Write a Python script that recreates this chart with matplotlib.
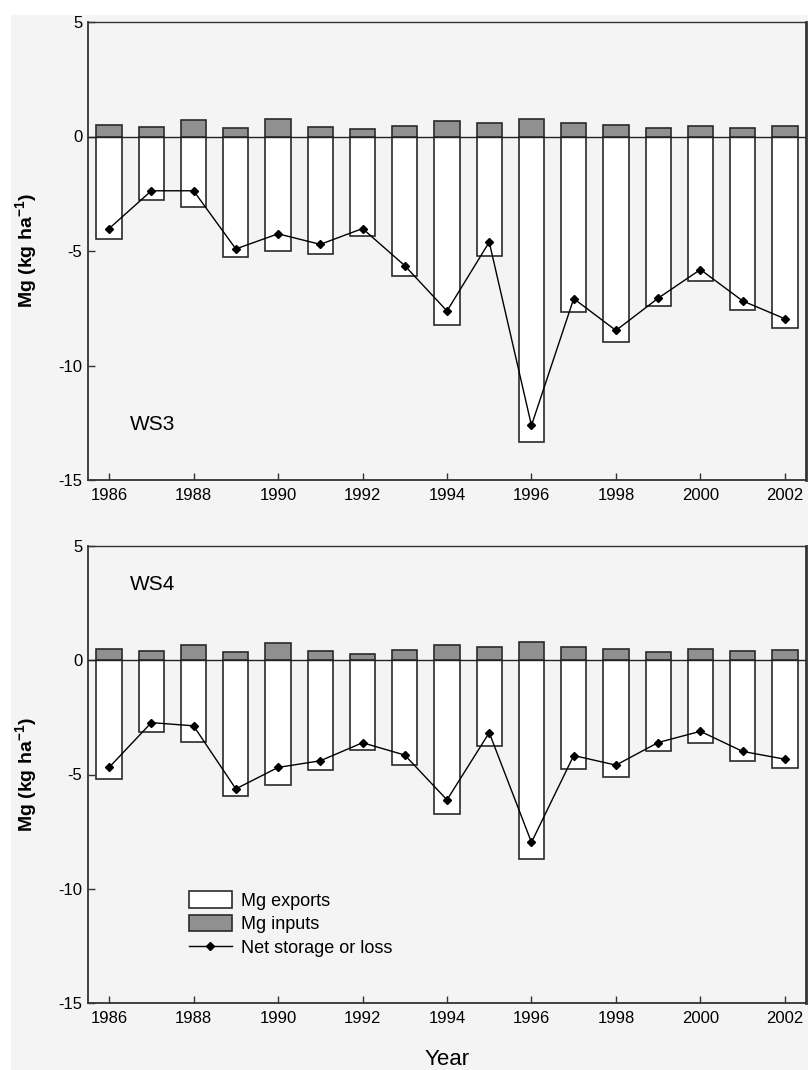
import matplotlib.pyplot as plt
from matplotlib.patches import Rectangle, Patch
from matplotlib.lines import Line2D

plt.rcParams["font.family"] = ["Liberation Sans", "DejaVu Sans"]

years = list(range(1986, 2003))

# WS3
ws3_inputs = [0.49, 0.42, 0.70, 0.36, 0.76, 0.42, 0.33, 0.46, 0.67, 0.60,
              0.77, 0.60, 0.49, 0.37, 0.48, 0.39, 0.44]
ws3_exports = [-4.49, -2.79, -3.09, -5.28, -5.00, -5.13, -4.34, -6.07, -8.23, -5.24,
               -13.33, -7.68, -8.96, -7.41, -6.30, -7.56, -8.35]
ws3_net = [-4.02, -2.37, -2.37, -4.91, -4.25, -4.71, -4.02, -5.64, -7.62, -4.61,
           -12.62, -7.08, -8.47, -7.06, -5.81, -7.18, -7.96]

# WS4
ws4_inputs = [0.50, 0.41, 0.67, 0.34, 0.75, 0.42, 0.29, 0.45, 0.66, 0.57,
              0.78, 0.58, 0.51, 0.35, 0.50, 0.41, 0.44]
ws4_exports = [-5.19, -3.13, -3.58, -5.96, -5.44, -4.80, -3.92, -4.59, -6.75, -3.74,
               -8.70, -4.75, -5.13, -3.96, -3.63, -4.39, -4.72]
ws4_net = [-4.69, -2.73, -2.87, -5.63, -4.69, -4.40, -3.61, -4.15, -6.11, -3.17,
           -7.97, -4.17, -4.59, -3.60, -3.11, -3.99, -4.33]

xticks = list(range(1986, 2003, 2))
yticks = [5, 0, -5, -10, -15]

bg = "#f4f4f4"
edge = "#2a2a2a"

fig = plt.figure(figsize=(8.08, 10.70), dpi=100, facecolor="white")
fig.patches.append(Rectangle((11 / 808, 0), 1 - 11 / 808, 1 - 15 / 1070,
                             transform=fig.transFigure, facecolor=bg,
                             edgecolor="none", zorder=-10))

left = 88 / 808
width = 718 / 808
ax1 = fig.add_axes([left, 1 - 480 / 1070, width, 458 / 1070])
ax2 = fig.add_axes([left, 1 - 1003 / 1070, width, 457 / 1070])


def draw(ax, inputs, exports, net, label, lab_y):
    ax.set_facecolor(bg)
    ax.bar(years, exports, width=0.6, color="white", edgecolor=edge, linewidth=1.2, zorder=2)
    ax.bar(years, inputs, width=0.6, color="#909090", edgecolor=edge, linewidth=1.2, zorder=2)
    ax.axhline(0, color="#222222", linewidth=1.0, zorder=3)
    ax.plot(years, net, color="black", linewidth=1.0, marker="D", markersize=4,
            zorder=4)
    ax.set_xlim(1985.5, 2002.5)
    ax.set_ylim(-15, 5)
    ax.set_xticks(xticks)
    ax.set_yticks(yticks)
    ax.set_yticklabels([str(t) for t in yticks])
    ax.tick_params(direction="in", length=5, width=1, labelsize=12, color="#333333")
    ax.tick_params(axis="x", pad=6)
    ax.tick_params(axis="y", pad=4)
    ax.spines["left"].set_linewidth(1.3)
    ax.spines["bottom"].set_linewidth(1.3)
    ax.spines["top"].set_linewidth(1.0)
    ax.spines["right"].set_linewidth(2.0)
    for s in ax.spines.values():
        s.set_color("#333333")
    ax.set_ylabel("Mg (kg ha$^{\\mathregular{-1}}$)", fontsize=14, fontweight="bold",
                  labelpad=13)
    ax.text(0.058, lab_y, label, transform=ax.transAxes, fontsize=15, va="center")


draw(ax1, ws3_inputs, ws3_exports, ws3_net, "WS3", 0.122)
draw(ax2, ws4_inputs, ws4_exports, ws4_net, "WS4", 0.915)

ax2.set_xlabel("Year", fontsize=16, labelpad=16)

handles = [Patch(facecolor="white", edgecolor=edge, linewidth=1.2, label="Mg exports"),
           Patch(facecolor="#909090", edgecolor=edge, linewidth=1.2, label="Mg inputs"),
           Line2D([0], [0], color="black", linewidth=1.0, marker="D", markersize=4,
                  label="Net storage or loss")]
ax2.legend(handles=handles, loc="upper left", bbox_to_anchor=(0.13, 0.26),
           frameon=False, fontsize=13, handlelength=2.4, handleheight=1.0,
           handletextpad=0.5, labelspacing=0.3, borderaxespad=0)

fig.savefig("out.png", dpi=100, facecolor="white")
